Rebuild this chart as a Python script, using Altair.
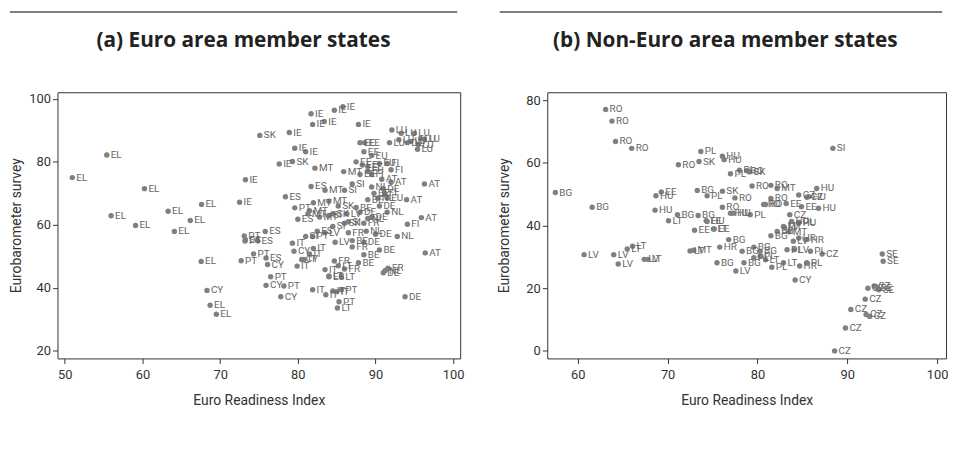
import altair as alt
import pandas as pd

# ---------------- Panel (a): Euro area member states ----------------
a_country = [
    "EL","EL","EL","EL","EL","EL","EL","EL","EL","EL","EL","EL",
    "CY","CY","CY","CY","CY","CY",
    "IE","IE","IE","IE","IE","IE","IE","IE","IE","IE","IE","IE",
    "SK","SK","SK","SK","SK",
    "PT","PT","PT","PT","PT","PT","PT","PT","PT","PT",
    "ES","ES","ES","ES","ES","ES","ES","ES","ES",
    "MT","MT","MT","MT","MT","MT","MT","MT",
    "IT","IT","IT","IT","IT","IT","IT","IT","IT","IT",
    "LT","LT","LT","LT",
    "FR","FR","FR","FR","FR","FR",
    "DE","DE","DE","DE","DE","DE","DE","DE","DE",
    "NL","NL","NL","NL","NL","NL","NL",
    "AT","AT","AT","AT","AT","AT",
    "FI","FI","FI","FI","FI",
    "EE","EE","EE","EE","EE","EE","EE",
    "LU","LU","LU","LU","LU","LU","LU","LU","LU","LU",
    "BE","BE","BE","BE","BE","BE","BE",
    "SI","SI","SI","SI","SI","SI",
    "LV","LV","LV",
    "EU","EU","EU","EU",
]
a_x = [
    50.96, 55.4, 60.25, 55.96, 59.1, 63.3, 64.1, 66.15, 67.6, 67.55, 68.7, 69.5,
    68.3, 75.9, 77.8, 76.1, 79.5, 80.5,
    72.5, 73.25, 77.6, 78.9, 79.6, 81.0, 81.7, 84.7, 85.8, 81.9, 83.4, 87.8,
    75.1, 79.3, 84.5, 86.0, 85.2,
    72.7, 73.1, 74.3, 76.5, 78.2, 79.6, 81.9, 85.3, 85.6, 73.2,
    73.25, 75.8, 74.8, 75.9, 81.7, 78.4, 80.0, 84.0, 82.5,
    82.2, 85.9, 83.5, 82.0, 81.3, 84.0, 82.8, 81.5,
    81.9, 83.6, 84.5, 85.0, 83.5, 79.3, 79.9, 81.5, 82.0, 80.8,
    85.1, 84.0, 85.6, 85.2,
    84.7, 86.0, 87.0, 86.5, 88.5, 91.6,
    93.8, 94.1, 90.0, 88.5, 89.5, 90.5, 88.0, 91.0, 91.0,
    92.8, 89.5, 90.3, 88.8, 89.0, 91.5, 91.25,
    96.4, 96.3, 95.9, 92.0, 90.8, 94.0,
    94.1, 91.5, 92.0, 91.2, 89.5,
    88.0, 88.6, 88.5, 87.5, 88.3, 89.0, 88.0,
    92.1, 93.3, 95.0, 95.8, 96.3, 95.4, 91.8, 93.0, 94.5, 95.5,
    89.0, 87.5, 88.5, 87.0, 90.5, 87.8, 89.8,
    81.0, 84.5, 86.0, 87.0, 84.0, 86.5,
    84.8, 83.5, 86.3,
    89.5, 90.5, 89.0, 91.5,
]
a_y = [
    75.0, 82.2, 71.5, 62.9, 59.8, 64.3, 57.9, 61.4, 66.5, 48.4, 34.5, 31.6,
    39.2, 40.8, 37.2, 47.4, 51.6, 49.0,
    67.2, 74.3, 79.3, 89.3, 84.3, 83.2, 95.3, 96.4, 97.5, 91.9, 92.8, 91.9,
    88.4, 80.1, 63.5, 60.5, 66.0,
    48.6, 56.5, 50.8, 43.5, 40.6, 65.4, 56.3, 35.6, 39.4, 54.9,
    55.3, 57.9, 55.0, 49.5, 72.2, 68.9, 61.8, 43.5, 58.0,
    78.0, 76.9, 71.0, 67.0, 63.5, 67.5, 62.5, 64.5,
    39.4, 37.8, 39.0, 38.8, 45.8, 54.2, 46.9, 50.8, 52.5, 49.0,
    33.6, 43.8, 43.5, 47.0,
    48.5, 46.0, 53.0, 57.5, 60.5, 46.2,
    37.2, 86.1, 57.0, 54.5, 62.5, 66.0, 64.0, 71.5, 44.8,
    56.3, 72.0, 68.5, 58.0, 62.0, 64.0, 45.5,
    51.1, 73.0, 62.3, 73.5, 74.5, 68.0,
    60.2, 79.5, 77.5, 70.0, 76.0,
    86.1, 86.1, 83.2, 80.0, 79.0, 78.5, 76.0,
    90.1, 89.1, 89.1, 87.4, 87.2, 84.0, 86.1, 87.0, 86.5, 85.5,
    68.0, 65.5, 50.5, 55.0, 52.0, 48.0, 70.0,
    56.3, 59.5, 71.0, 73.0, 63.0, 61.0,
    54.5, 57.5, 63.5,
    82.0, 79.5, 77.0, 68.5,
]

# ---------------- Panel (b): Non-Euro area member states ----------------
b_country = [
    "RO","RO","RO","RO","RO","RO","RO","RO","RO","RO","RO","RO","RO",
    "BG","BG","BG","BG","BG","BG","BG","BG","BG","BG","BG","BG","BG",
    "LV","LV","LV","LV","LV","LV","LV","LV",
    "LT","LT","LT","LT","LT","LT","LT","LT",
    "EE","EE","EE","EE","EE","EE",
    "HU","HU","HU","HU","HU","HU","HU","HU","HU","HU","HU","HU",
    "PL","PL","PL","PL","PL","PL","PL","PL","PL","PL","PL","PL",
    "SK","SK","SK",
    "MT","MT","MT","MT",
    "CZ","CZ","CZ","CZ","CZ","CZ","CZ","CZ","CZ","CZ","CZ","CZ",
    "SE","SE","SE","SE",
    "HR","HR","HR","HR",
    "SI","CY",
]
b_x = [
    63.1, 63.8, 64.2, 66.0, 71.2, 79.4, 80.7, 81.5, 77.5, 76.1, 81.5, 80.9, 78.8,
    57.5, 61.6, 71.1, 73.3, 73.4, 75.5, 76.8, 78.3, 78.5, 79.6, 80.3, 81.5, 82.2,
    60.7, 64.0, 64.5, 67.4, 77.6, 83.0, 84.0, 84.1,
    65.5, 66.1, 67.8, 70.1, 72.5, 75.1, 82.9, 80.9,
    69.3, 73.0, 75.2, 74.3, 84.9, 83.2,
    68.7, 68.6, 74.4, 76.1, 76.3, 77.0, 77.3, 86.6, 85.7, 86.8, 83.8, 84.6,
    73.7, 74.4, 77.0, 78.0, 79.2, 81.6, 85.9, 84.6, 83.3, 85.5, 80.3, 79.6,
    73.5, 76.1, 79.1,
    72.9, 82.2, 82.9, 83.5,
    84.6, 83.6, 87.2, 88.6, 89.8, 90.4, 92.0, 92.3, 93.0, 92.1, 92.5, 85.5,
    93.9, 94.0, 93.3, 93.5,
    75.8, 84.7, 84.6, 85.5,
    88.4, 84.2,
]
b_y = [
    77.0, 73.3, 66.8, 64.6, 59.4, 52.6, 46.7, 48.6, 48.8, 45.8, 52.8, 46.7, 57.5,
    50.5, 45.8, 43.4, 51.2, 43.2, 28.1, 35.5, 31.8, 28.1, 33.1, 31.8, 36.7, 38.1,
    30.7, 30.7, 27.7, 29.2, 25.5, 39.4, 35.0, 32.3,
    32.5, 33.4, 29.2, 41.5, 31.9, 38.9, 28.1, 29.1,
    50.7, 38.5, 38.9, 41.5, 46.0, 47.0,
    49.5, 44.9, 41.3, 62.1, 61.0, 43.9, 43.9, 51.8, 49.2, 45.5, 41.3, 40.7,
    63.6, 49.5, 56.5, 57.6, 43.4, 26.7, 31.8, 41.0, 32.3, 28.1, 30.2, 29.7,
    60.4, 50.9, 57.1,
    32.1, 51.8, 39.7, 38.0,
    49.7, 43.4, 30.9, 0.0, 7.3, 13.2, 16.5, 20.0, 20.7, 11.6, 11.0, 49.0,
    30.9, 28.6, 20.2, 19.5,
    33.1, 27.1, 36.0, 35.5,
    64.6, 22.6,
]

titles = ["(a) Euro area member states", "(b) Non-Euro area member states"]

NARROW = "Roboto, Liberation Sans, sans-serif"
BOLD = "Open Sans, Noto Sans, sans-serif"


def panel(country, xs, ys, title, xdom, ydom, xticks, yticks, w, h,
          rule_end, title_x, ytitle_x):
    df = pd.DataFrame({"c": country, "x": xs, "y": ys})
    x_enc = alt.X("x:Q",
                  scale=alt.Scale(domain=xdom, nice=False, zero=False),
                  axis=alt.Axis(values=xticks, title="Euro Readiness Index",
                                labelPadding=5, titlePadding=13))
    y_enc = alt.Y("y:Q",
                  scale=alt.Scale(domain=ydom, nice=False, zero=False),
                  axis=alt.Axis(values=yticks, title="Eurobarometer survey",
                                titleX=ytitle_x))
    base = alt.Chart(df)
    pts = base.mark_circle(size=30, color="#808080", opacity=1).encode(
        x=x_enc, y=y_enc)
    lbl = base.mark_text(align="left", baseline="middle", dx=4, fontSize=10,
                         font=NARROW, color="#666666").encode(
        x="x:Q", y="y:Q", text="c:N")
    one = pd.DataFrame({"t": [title]})
    rule = alt.Chart(one).mark_rule(color="#555555", strokeWidth=1.5).encode(
        x=alt.value(-48), x2=alt.value(rule_end), y=alt.value(-81))
    ttl = alt.Chart(one).mark_text(font=BOLD, fontWeight="bold", fontSize=21,
                                   color="#222222", align="center",
                                   baseline="middle").encode(
        x=alt.value(title_x), y=alt.value(-52), text="t:N")
    return alt.layer(rule, ttl, pts, lbl).properties(width=w, height=h)


pa = panel(a_country, a_x, a_y, titles[0], [49.05, 100.9], [17.6, 102.1],
           [50, 60, 70, 80, 90, 100], [20, 40, 60, 80, 100], 407, 269,
           404, 188, -34)
pb = panel(b_country, b_x, b_y, titles[1], [56.6, 101.0], [-2.4, 82.5],
           [60, 70, 80, 90, 100], [0, 20, 40, 60, 80], 403, 269,
           399, 180, -36)

chart = alt.hconcat(pa, pb, spacing=32).properties(
    padding={"left": 0, "top": 0, "right": 0, "bottom": 0}
).configure_view(
    stroke="#333333", strokeWidth=1
).configure_axis(
    domain=False, grid=False, ticks=True, tickSize=5, tickColor="#333333",
    labelFont=NARROW, labelFontSize=13, labelColor="#333333", labelPadding=2,
    titleFont=NARROW, titleFontSize=14, titleFontWeight="normal",
    titleColor="#333333"
)

chart.save("out.html", embed_options={"renderer": "svg", "actions": False})
